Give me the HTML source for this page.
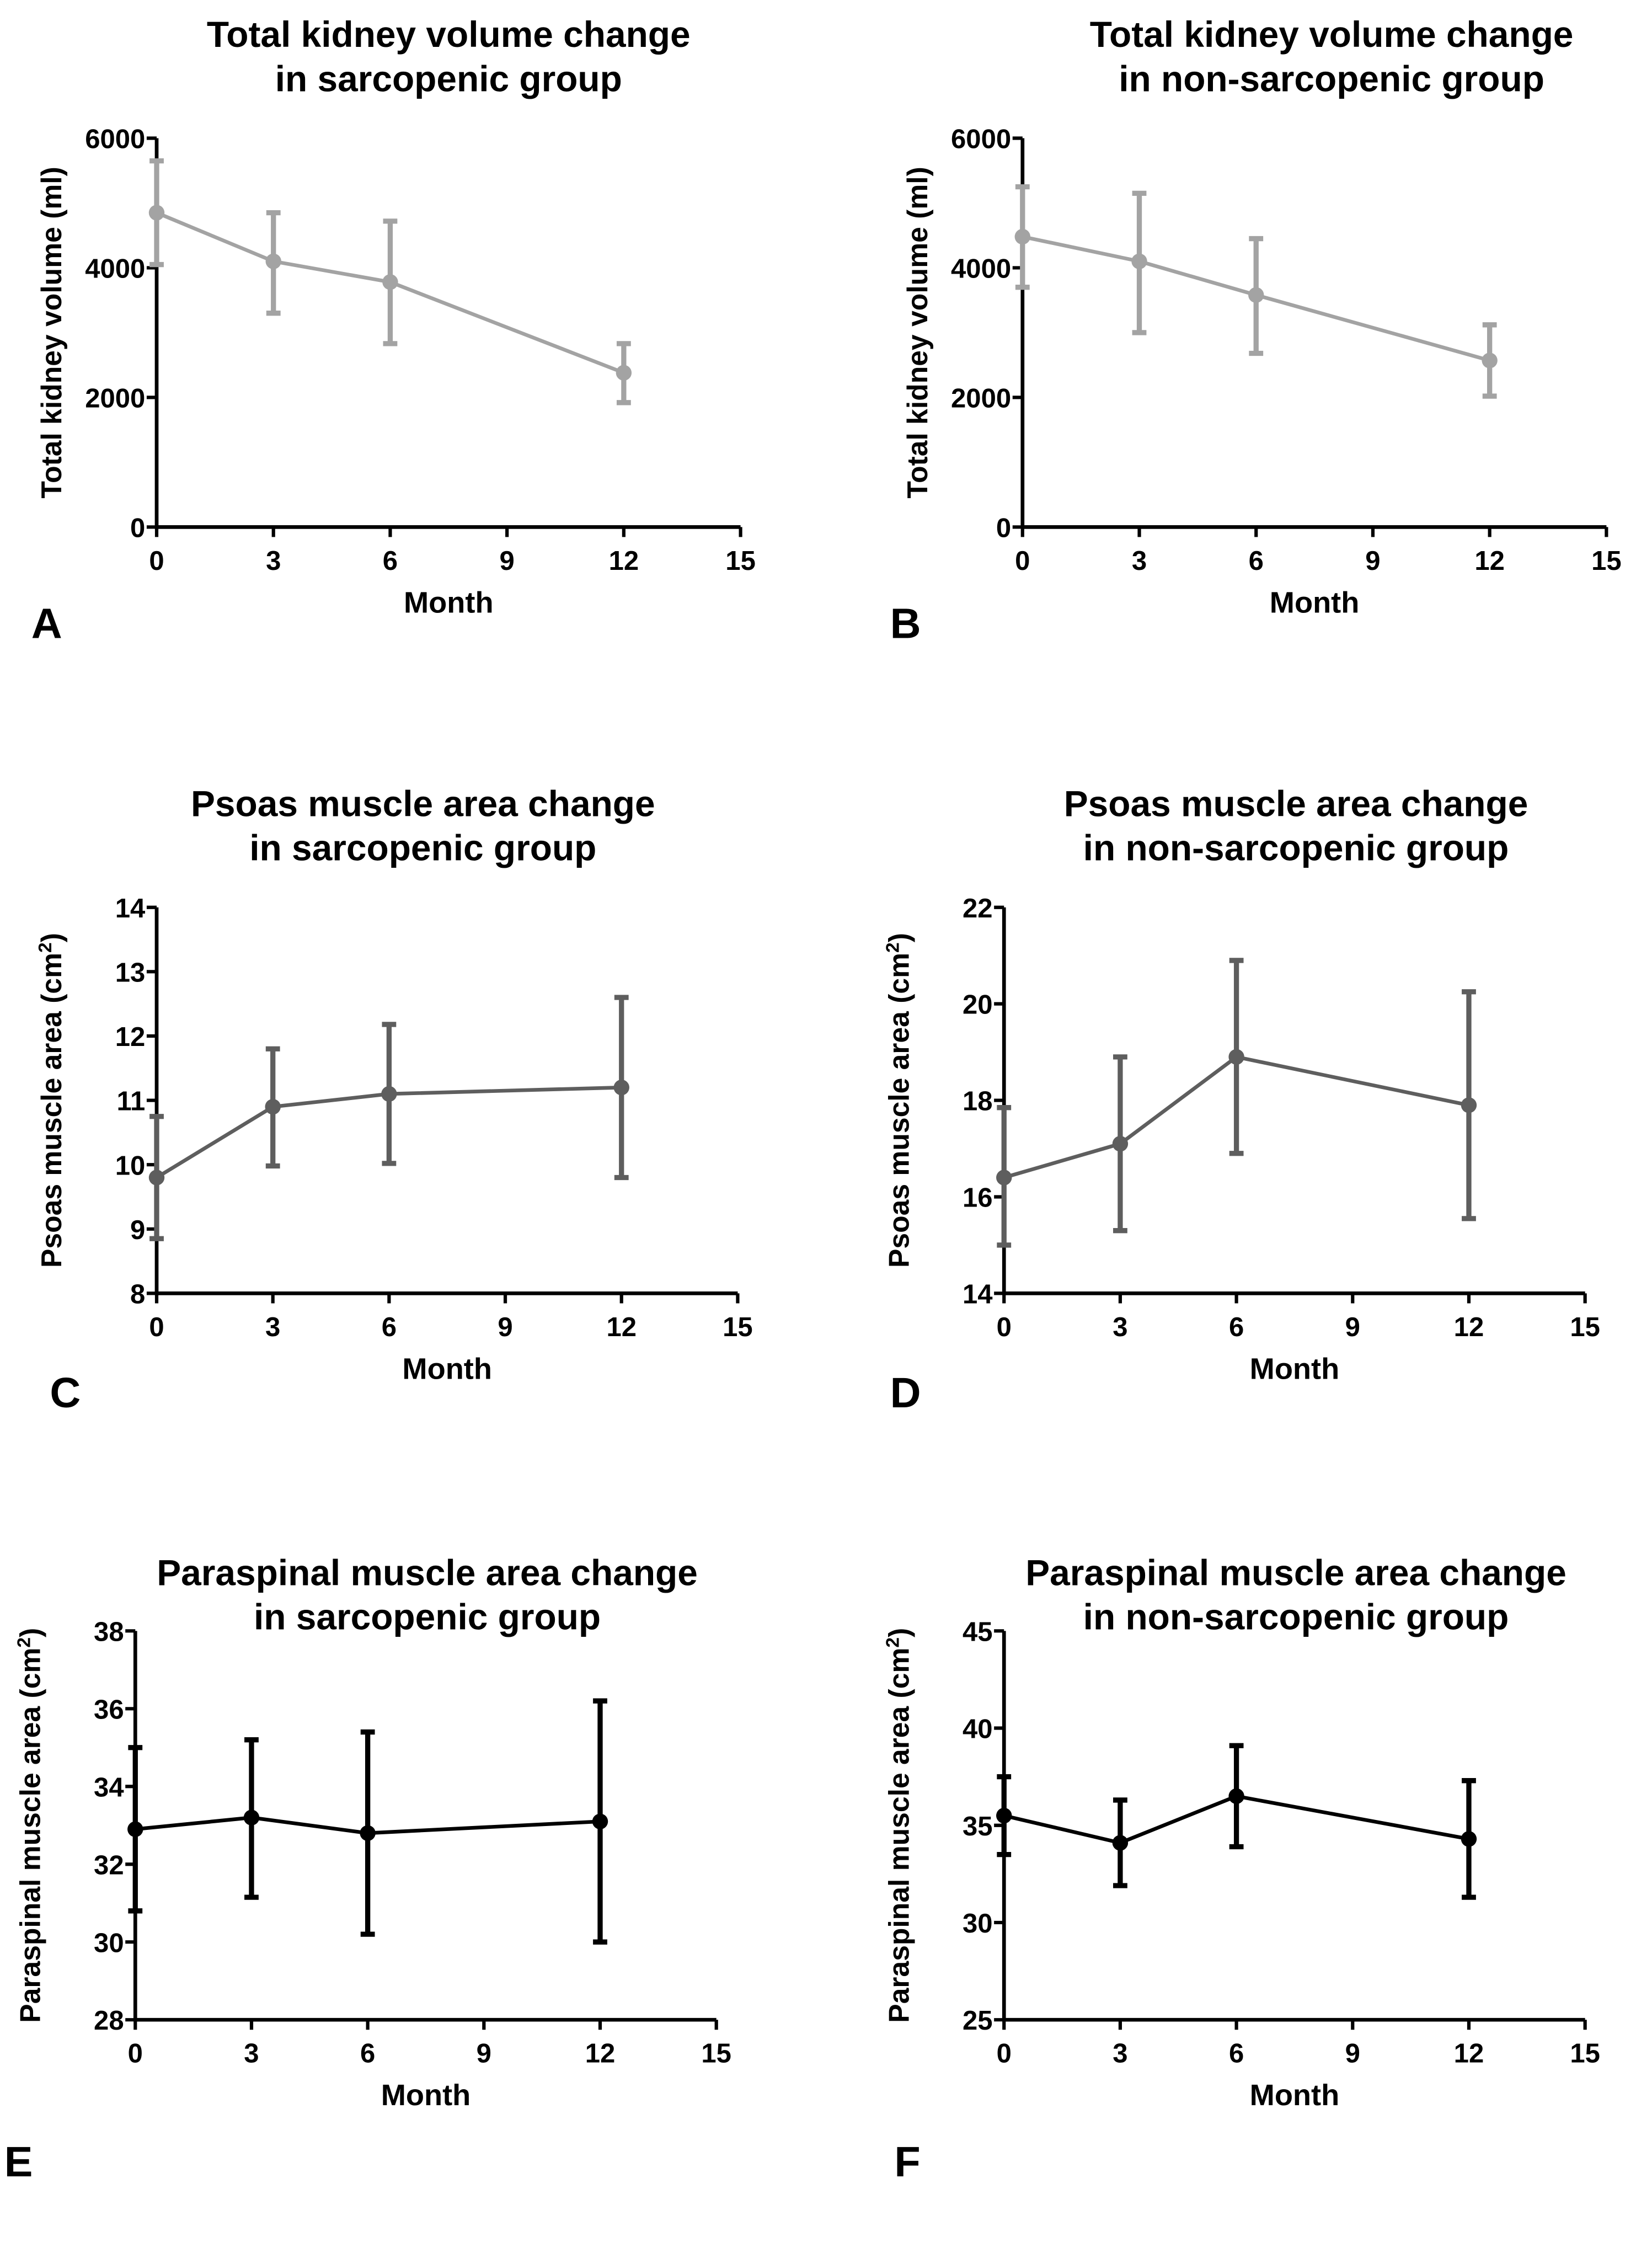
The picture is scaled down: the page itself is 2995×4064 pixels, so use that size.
<!DOCTYPE html>
<html><head><meta charset="utf-8"><style>
html,body{margin:0;padding:0;background:#fff}
svg{display:block}
text{font-family:"Liberation Sans",Arial,sans-serif;font-weight:bold;fill:#000}
</style></head><body>
<svg id="fig" width="2995" height="4064" viewBox="0 0 1160 1574" xmlns="http://www.w3.org/2000/svg"></svg>
<script>
const months=[0,3,6,12];
const xTicks=[0,3,6,9,12,15];
const aMean=[4850,4100,3780,2380], aHi=[5650,4850,4720,2830], aLo=[4050,3300,2830,1920];
const bMean=[4480,4100,3580,2570], bHi=[5250,5150,4450,3120], bLo=[3700,3000,2680,2020];
const cMean=[9.8,10.9,11.1,11.2], cHi=[10.75,11.8,12.18,12.6], cLo=[8.85,9.98,10.02,9.8];
const dMean=[16.4,17.1,18.9,17.9], dHi=[17.85,18.9,20.9,20.25], dLo=[15.0,15.3,16.9,15.55];
const eMean=[32.9,33.2,32.8,33.1], eHi=[35.0,35.2,35.4,36.2], eLo=[30.8,31.15,30.2,30.0];
const fMean=[35.5,34.1,36.5,34.3], fHi=[37.5,36.3,39.1,37.3], fLo=[33.5,31.9,33.9,31.3];
const aTicks=[0,2000,4000,6000], cTicks=[8,9,10,11,12,13,14], dTicks=[14,16,18,20,22], eTicks=[28,30,32,34,36,38], fTicks=[25,30,35,40,45];

const svg=document.getElementById('fig');
const NS='http://www.w3.org/2000/svg';
function el(tag,attrs,parent){const e=document.createElementNS(NS,tag);for(const k in attrs)e.setAttribute(k,attrs[k]);(parent||svg).appendChild(e);return e;}
function txt(s,attrs,parent){const t=el('text',attrs,parent);t.textContent=s;return t;}

function panel(o){
  const g=el('g',{});
  
  
  const X=v=>o.x0+(v-0)/15*(o.x1-o.x0);
  const Y=v=>o.y1-(v-o.ymin)/(o.ymax-o.ymin)*(o.y1-o.y0);
  const t1=txt(o.title[0],{x:o.tc,y:o.ty,'text-anchor':'middle','font-size':25.5},g);
  
  
  const t2=txt(o.title[1],{x:o.tc,y:o.ty+31,'text-anchor':'middle','font-size':25.5},g);
  
  
  const ax=el('path',{d:`M${o.x0},${o.y0}V${o.y1}H${o.x1}`,stroke:'#000','stroke-width':2.6,fill:'none'},g);
  
  
  o.yticks.forEach(v=>{
    el('line',{x1:o.x0-7,x2:o.x0,y1:Y(v),y2:Y(v),stroke:'#000','stroke-width':2.4},g);
    const t=txt(String(v),{x:o.x0-8,y:Y(v)+7,'text-anchor':'end','font-size':19},g);
    
    
  });
  xTicks.forEach(v=>{
    el('line',{x1:X(v),x2:X(v),y1:o.y1,y2:o.y1+7,stroke:'#000','stroke-width':2.4},g);
    const t=txt(String(v),{x:X(v),y:o.y1+30,'text-anchor':'middle','font-size':19},g);
    
    
  });
  const xl=txt('Month',{x:(o.x0+o.x1)/2,y:o.y1+60,'text-anchor':'middle','font-size':21},g);
  
  
  const yc=(o.y0+o.y1)/2;
  const yl=txt('',{x:0,y:0,'text-anchor':'middle','font-size':20,transform:`translate(${o.x0-67},${yc}) rotate(-90)`},g);
  
  
  if(o.sup){
    yl.appendChild(document.createTextNode(o.ylabel+' (cm'));
    const s=el('tspan',{'baseline-shift':'super','font-size':13},yl);s.textContent='2';
    yl.appendChild(document.createTextNode(')'));
  } else yl.textContent=o.ylabel;
  const lt=txt(o.letter,{x:o.lx,y:o.ly,'font-size':30},g);
  
  
  const pts=months.map((m,i)=>X(m)+','+Y(o.mean[i])).join(' ');
  const pl=el('polyline',{points:pts,fill:'none',stroke:o.color,'stroke-width':2.6},g);
  
  
  months.forEach((m,i)=>{
    const x=X(m);
    const eb=el('path',{d:`M${x},${Y(o.hi[i])}V${Y(o.lo[i])}M${x-5},${Y(o.hi[i])}H${x+5}M${x-5},${Y(o.lo[i])}H${x+5}`,stroke:o.color,'stroke-width':3.6,fill:'none'},g);
    
    
    const c=el('circle',{cx:x,cy:Y(o.mean[i]),r:5.5,fill:o.color},g);
    
    
  });
}
const gray='#a3a3a3', dark='#5e5e5e', blk='#000';
panel({letter:'A',title:['Total kidney volume change','in sarcopenic group'],tc:315,ty:33,x0:110,x1:520,y0:97,y1:370,ymin:0,ymax:6000,yticks:aTicks,ylabel:'Total kidney volume (ml)',mean:aMean,hi:aHi,lo:aLo,color:gray,lx:22,ly:448});
panel({letter:'B',title:['Total kidney volume change','in non-sarcopenic group'],tc:935,ty:33,x0:718,x1:1128,y0:97,y1:370,ymin:0,ymax:6000,yticks:aTicks,ylabel:'Total kidney volume (ml)',mean:bMean,hi:bHi,lo:bLo,color:gray,lx:625,ly:448});
panel({letter:'C',title:['Psoas muscle area change','in sarcopenic group'],tc:297,ty:573,x0:110,x1:518,y0:637,y1:908,ymin:8,ymax:14,yticks:cTicks,ylabel:'Psoas muscle area',sup:true,mean:cMean,hi:cHi,lo:cLo,color:dark,lx:35,ly:988});
panel({letter:'D',title:['Psoas muscle area change','in non-sarcopenic group'],tc:910,ty:573,x0:705,x1:1113,y0:637,y1:908,ymin:14,ymax:22,yticks:dTicks,ylabel:'Psoas muscle area',sup:true,mean:dMean,hi:dHi,lo:dLo,color:dark,lx:625,ly:988});
panel({letter:'E',title:['Paraspinal muscle area change','in sarcopenic group'],tc:300,ty:1113,x0:95,x1:503,y0:1145,y1:1418,ymin:28,ymax:38,yticks:eTicks,ylabel:'Paraspinal muscle area',sup:true,mean:eMean,hi:eHi,lo:eLo,color:blk,lx:3,ly:1528});
panel({letter:'F',title:['Paraspinal muscle area change','in non-sarcopenic group'],tc:910,ty:1113,x0:705,x1:1113,y0:1145,y1:1418,ymin:25,ymax:45,yticks:fTicks,ylabel:'Paraspinal muscle area',sup:true,mean:fMean,hi:fHi,lo:fLo,color:blk,lx:628,ly:1528});
</script>
</body></html>
